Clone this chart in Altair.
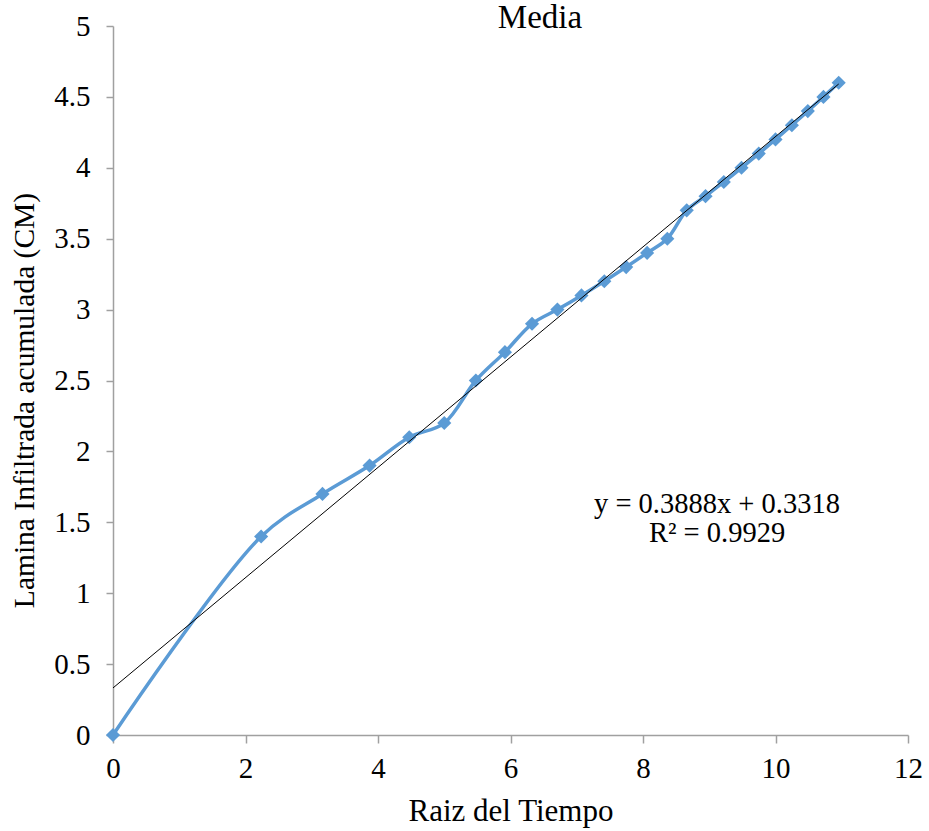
import altair as alt
import pandas as pd

raiz_tiempo = [0.0, 2.236, 3.162, 3.873, 4.472, 5.0, 5.477, 5.916, 6.325, 6.708,
               7.071, 7.416, 7.746, 8.062, 8.367, 8.660, 8.944, 9.220, 9.487, 9.747,
               10.0, 10.247, 10.488, 10.724, 10.954]
lamina = [0.0, 1.4, 1.7, 1.9, 2.1, 2.2, 2.5, 2.7, 2.9, 3.0,
          3.1, 3.2, 3.3, 3.4, 3.5, 3.7, 3.8, 3.9, 4.0, 4.1,
          4.2, 4.3, 4.4, 4.5, 4.6]
x_ticks = [0, 2, 4, 6, 8, 10, 12]
y_ticks = [0, 0.5, 1, 1.5, 2, 2.5, 3, 3.5, 4, 4.5, 5]
equation_lines = ["y = 0.3888x + 0.3318", "R² = 0.9929"]
chart_title = "Media"

df = pd.DataFrame({"x": raiz_tiempo, "y": lamina})
FONT = "Liberation Serif"
BLUE = "#5B9BD5"
AXIS_GRAY = "#A0A0A0"

xs = alt.Scale(domain=[0, 12], nice=False)
ys = alt.Scale(domain=[0, 5], nice=False)

x_axis = alt.Axis(values=x_ticks, format="~g", grid=False, title="Raiz del Tiempo",
                  tickSize=8, labelPadding=11, labelFlush=False, labelOverlap=False,
                  labelFont=FONT, labelFontSize=29, titleFont=FONT, titleFontSize=31,
                  titleBaseline="alphabetic", titleY=85)
y_axis = alt.Axis(values=y_ticks, format="~g", grid=False,
                  title="Lamina Infiltrada acumulada (CM)",
                  tickSize=7, labelPadding=16, labelFlush=False, labelOverlap=False,
                  labelFont=FONT, labelFontSize=29, titleFont=FONT, titleFontSize=29.5,
                  titleBaseline="alphabetic", titleX=-80, titleY=374, titleAngle=270)

base = alt.Chart(df)

line = base.mark_line(color=BLUE, strokeWidth=3.5, interpolate="catmull-rom").encode(
    x=alt.X("x:Q", scale=xs, axis=x_axis),
    y=alt.Y("y:Q", scale=ys, axis=y_axis),
)
points = base.mark_point(shape="diamond", filled=True, color=BLUE, size=200, opacity=1).encode(
    x=alt.X("x:Q", scale=xs),
    y=alt.Y("y:Q", scale=ys),
)
trend = base.transform_regression("x", "y", extent=[0, 10.954]).mark_line(
    color="black", strokeWidth=1
).encode(
    x=alt.X("x:Q", scale=xs),
    y=alt.Y("y:Q", scale=ys),
)
eq = alt.Chart(pd.DataFrame({"t": [equation_lines]})).mark_text(
    font=FONT, fontSize=28.5, color="black", align="center", baseline="alphabetic",
    lineHeight=29
).encode(
    text="t:N",
    x=alt.value(604),
    y=alt.value(487),
)
title = alt.Chart(pd.DataFrame({"t": [chart_title]})).mark_text(
    font=FONT, fontSize=33, color="black", align="center", baseline="alphabetic"
).encode(
    text="t:N",
    x=alt.value(427),
    y=alt.value(2),
)

chart = alt.layer(line, points, trend, eq, title).properties(
    width=795,
    height=709,
    padding={"left": 113, "top": 26, "right": 21, "bottom": 96},
    autosize=alt.AutoSizeParams(type="none"),
).configure_axis(
    labelColor="black", titleColor="black", titleFontWeight="normal",
    domainColor=AXIS_GRAY, tickColor=AXIS_GRAY, domainWidth=1.5, tickWidth=1.5,
).configure_view(stroke=None)

chart.save("out.html", embed_options={"renderer": "svg", "actions": False})
